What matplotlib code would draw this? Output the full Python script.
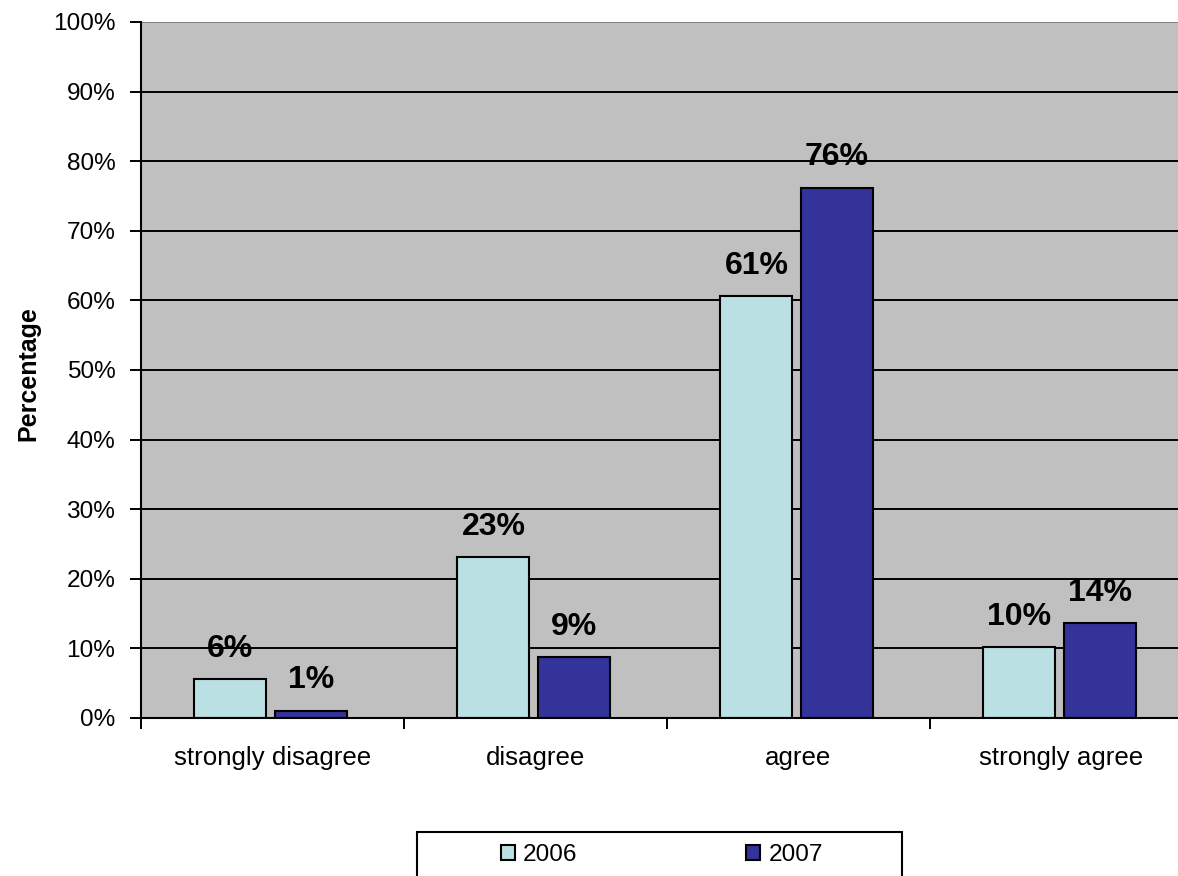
import matplotlib
matplotlib.use("Agg")
import matplotlib.pyplot as plt
from matplotlib.patches import Rectangle
import numpy as np

categories = ["strongly disagree", "disagree", "agree", "strongly agree"]
years = ["2006", "2007"]
values_2006 = [5.6, 23.1, 60.6, 10.2]
values_2007 = [1.05, 8.8, 76.2, 13.6]
yticks = [0, 10, 20, 30, 40, 50, 60, 70, 80, 90, 100]
ytick_labels = [f"{t}%" for t in yticks]

FONT = "Liberation Sans"
plt.rcParams['font.family'] = [FONT, 'DejaVu Sans']

W, H = 1178, 876
fig = plt.figure(figsize=(W / 100, H / 100), dpi=100)
fig.patch.set_facecolor("white")

# axes: left 141px, top 22px, bottom 718px, right beyond image (1193px)
ax = fig.add_axes([141 / W, 1 - 718 / H, 1052 / W, 696 / H])
ax.set_facecolor("#C0C0C0")

x = np.arange(len(categories))
width = 0.274
off1, off2 = -0.16, 0.146
c2006, c2007 = "#BBE0E3", "#333399"

b1 = ax.bar(x + off1, values_2006, width, color=c2006, edgecolor="black",
            linewidth=1.5, label=years[0], zorder=3)
b2 = ax.bar(x + off2, values_2007, width, color=c2007, edgecolor="black",
            linewidth=1.5, label=years[1], zorder=3)

for bars, vals in ((b1, values_2006), (b2, values_2007)):
    for rect, v in zip(bars, vals):
        ax.annotate(f"{v:.0f}%", (rect.get_x() + rect.get_width() / 2, v),
                    xytext=(0, 16), textcoords="offset points",
                    ha="center", va="baseline", fontsize=23,
                    fontweight="bold", zorder=4)

ax.set_xlim(-0.5, len(categories) - 0.5)
ax.set_ylim(0, 100)
ax.set_yticks(yticks)
ax.set_yticklabels(ytick_labels, fontsize=17.6)
for t in yticks[1:]:
    ax.axhline(t, color="black" if t < 100 else "#808080", linewidth=1.4, zorder=1)

ax.set_xticks(x)
ax.set_xticklabels(categories, fontsize=18.6)
ax.set_xticks(np.arange(-0.5, len(categories), 1.0), minor=True)
ax.tick_params(axis="x", which="major", length=0, pad=20.5)
ax.tick_params(axis="x", which="minor", length=8, width=1.4, direction="out")
ax.tick_params(axis="y", length=8, width=1.4, direction="out", pad=10.5)

for s in ("top", "right"):
    ax.spines[s].set_visible(False)
ax.spines["left"].set_linewidth(1.5)
ax.spines["bottom"].set_linewidth(1.5)
ax.spines["bottom"].set_zorder(5)

fig.text(28 / W, 1 - 374 / H, "Percentage", rotation=90, ha="center",
         va="center", fontsize=18, fontweight="bold")

# legend
box_l, box_r, box_t, box_b = 417, 902, 832, 882
fig.patches.append(Rectangle((box_l / W, 1 - box_b / H), (box_r - box_l) / W,
                             (box_b - box_t) / H, transform=fig.transFigure,
                             facecolor="white", edgecolor="black",
                             linewidth=1.5, clip_on=False))
leg = fig.legend(handles=[b1, b2], labels=years, loc="center",
                 bbox_to_anchor=(662 / W, 1 - 855 / H), ncol=2, frameon=False,
                 fontsize=17.6, handlelength=0.55, handleheight=0.55,
                 handletextpad=0.35, columnspacing=6.9)

fig.savefig("out.png", dpi=100)
